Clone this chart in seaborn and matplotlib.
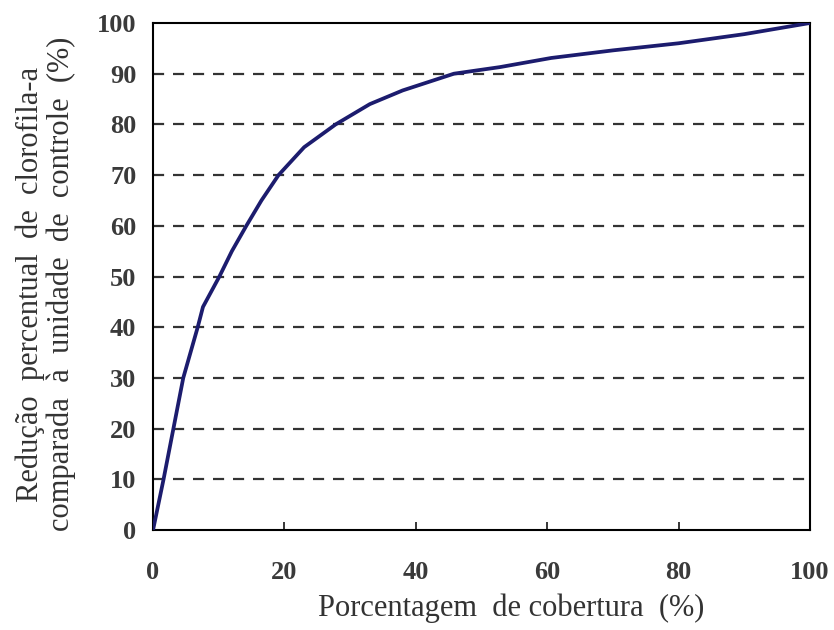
import matplotlib
matplotlib.use("Agg")
import matplotlib.pyplot as plt
import seaborn as sns
import pandas as pd

# values
cobertura = [0, 1.6, 3.1, 4.6, 6.8, 7.6, 10.1, 12.0, 14.2, 16.5, 19.1, 23.0, 27.8,
             33.0, 38.0, 45.8, 52.8, 60.6, 70.0, 80.0, 90.0, 100]
reducao = [0, 10, 20, 30, 40, 44, 50, 55, 60, 65, 70, 75.5, 80,
           84, 86.7, 90, 91.3, 93.1, 94.6, 96.0, 97.8, 100]
x_ticks = [0, 20, 40, 60, 80, 100]
y_ticks = [0, 10, 20, 30, 40, 50, 60, 70, 80, 90, 100]

df = pd.DataFrame({"cobertura": cobertura, "reducao": reducao})

sns.set_style("ticks")
plt.rcParams["font.family"] = ["Liberation Serif", "DejaVu Serif"]

fig = plt.figure(figsize=(8.34, 6.3), dpi=100)
ax = fig.add_axes([0.1835, 0.1587, 0.7877, 0.8048])

for y in y_ticks[1:-1]:
    ax.axhline(y, color="#333333", lw=1.6, ls=(0, (5, 4)), zorder=1)

sns.lineplot(data=df, x="cobertura", y="reducao", color="#1c1c6e", lw=2.7, ax=ax, zorder=3)

ax.set_xlim(0, 100)
ax.set_ylim(0, 100)
ax.set_xticks(x_ticks)
ax.set_yticks(y_ticks)
ax.tick_params(axis="x", direction="in", length=6, width=1.3, pad=22, labelsize=19)
ax.tick_params(axis="y", direction="in", length=0, pad=12, labelsize=19)
for lab in ax.get_xticklabels() + ax.get_yticklabels():
    lab.set_fontweight("bold")
    lab.set_color("#3a3a3a")

for s in ax.spines.values():
    s.set_color("black")
    s.set_linewidth(1.5)

ax.set_xlabel("Porcentagem  de cobertura  (%)", fontsize=22, color="#333333")
ax.xaxis.set_label_coords(0.545, -0.125)
ax.set_ylabel("Redução  percentual  de  clorofila-a\ncomparada  à  unidade  de  controle  (%)",
              fontsize=22, color="#333333", linespacing=1.05)
ax.yaxis.set_label_coords(-0.118, 0.485)

plt.savefig("out.png", dpi=100)
